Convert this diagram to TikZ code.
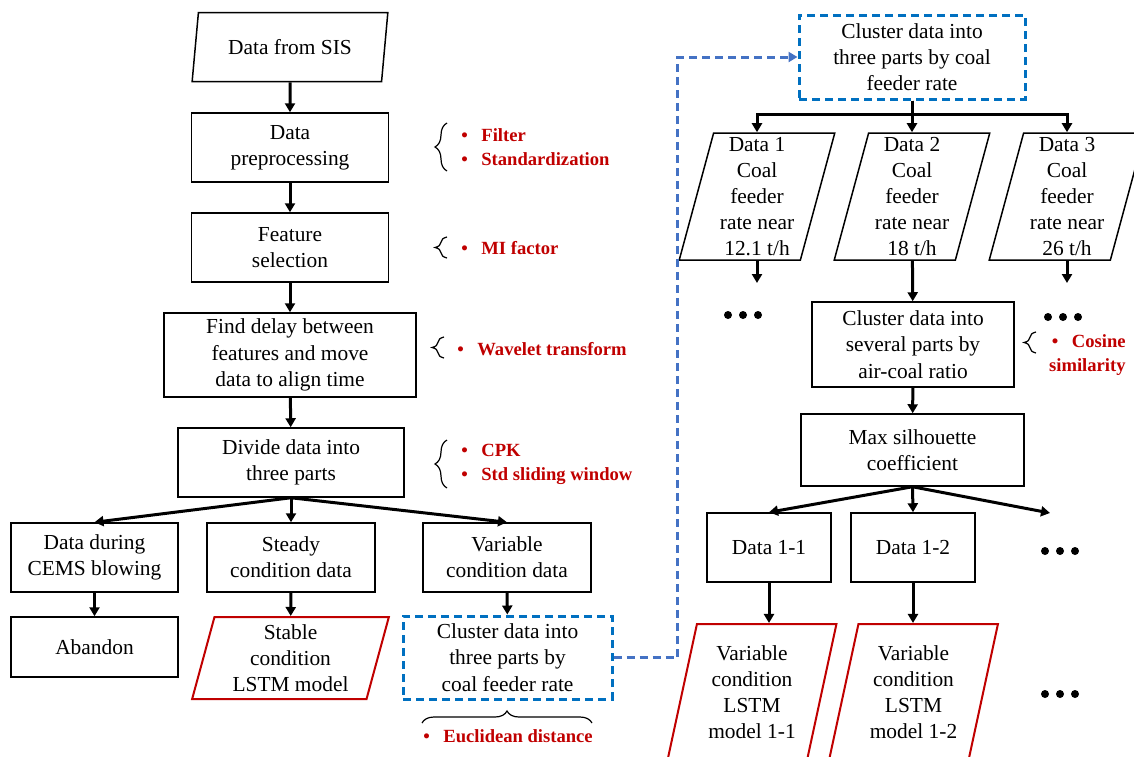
\documentclass[tikz,border=0pt]{standalone}
\usepackage{fontspec}
\setmainfont{Liberation Serif}
\usetikzlibrary{shapes.geometric,arrows.meta,decorations.pathreplacing}
\definecolor{notered}{HTML}{C00000}
\definecolor{boxblue}{HTML}{0070C0}
\definecolor{linkblue}{HTML}{4472C4}
\newcommand{\bl}{\makebox[10pt][l]{\textbullet}}

\begin{document}
\begin{tikzpicture}[x=0.5pt,y=-0.5pt,
    box/.style={draw,line width=0.75pt,align=center,inner sep=1pt,font=\fontsize{10.7}{13.1}\selectfont},
    para/.style={box,trapezium,trapezium left angle=76,trapezium right angle=104,trapezium stretches=true,inner sep=0.5pt},
    model/.style={para,draw=notered,line width=1pt},
    dbox/.style={box,draw=boxblue,line width=1.5pt,dash pattern=on 4pt off 2.5pt},
    note/.style={text=notered,align=left,inner sep=0pt,font=\bfseries\fontsize{9.3}{12}\selectfont},
    arr/.style={-{Triangle[length=4.5pt,width=5pt]},line width=1.5pt},
    link/.style={arr,draw=linkblue,dash pattern=on 4pt off 2.5pt},
    brc/.style={decorate,decoration={brace,amplitude=6pt},line width=0.6pt}]
\useasboundingbox (0,0) rectangle (1134,756);

% left column
\node[para,minimum width=98.5pt,minimum height=34.5pt] (sis) at (290,47) {Data from SIS};
\node[box,minimum width=98.5pt,minimum height=34.5pt] (prep) at (290,147.5) {Data\\preprocessing};
\node[box,minimum width=98.5pt,minimum height=34.5pt] (feat) at (290,247.5) {Feature\\selection};
\node[box,minimum width=126pt,minimum height=42pt] (delay) at (290,355) {Find delay between\\features and move\\data to align time};
\node[box,minimum width=113pt,minimum height=34.5pt] (divide) at (291,462.5) {Divide data into\\three parts};

\node[box,minimum width=83.5pt,minimum height=34.5pt] (cems) at (94.5,557.5) {Data during\\CEMS blowing};
\node[box,minimum width=84pt,minimum height=34.5pt] (steady) at (291,557.5) {Steady\\condition data};
\node[box,minimum width=84pt,minimum height=34.5pt] (vari) at (507,557.5) {Variable\\condition data};
\node[box,minimum width=83.5pt,minimum height=30pt] (abandon) at (94.5,647) {Abandon};
\node[model,minimum width=98.5pt,minimum height=41pt] (stable) at (290.5,658) {Stable\\condition\\LSTM model};
\node[dbox,minimum width=104.5pt,minimum height=41.5pt] (clustA) at (507.5,657.5) {Cluster data into\\three parts by\\coal feeder rate};

\draw[arr] (sis) -- (prep);
\draw[arr] (prep) -- (feat);
\draw[arr] (feat) -- (delay);
\draw[arr] (delay) -- (divide);
\draw[arr] (divide.south) -- (cems.north);
\draw[arr] (divide.south) -- (steady.north);
\draw[arr] (divide.south) -- (vari.north);
\draw[arr] (cems) -- (abandon);
\draw[arr] (steady) -- (stable);
\draw[arr] (vari) -- (clustA);

% notes
\draw[brc] (447,171) -- (447,123);
\node[note,anchor=west] (nfilter) at (461,147) {\bl Filter\\\bl Standardization};
\draw[brc] (447,258) -- (447,237);
\node[note,anchor=west] (nmi) at (461,248) {\bl MI factor};
\draw[brc] (444,358) -- (444,337);
\node[note,anchor=west] (nwave) at (457,349) {\bl Wavelet transform};
\draw[brc] (447,488) -- (447,440);
\node[note,anchor=west] (ncpk) at (461,464) {\bl CPK\\\bl Std sliding window};
\draw[brc] (422,723) -- (592,723);
\node[note,anchor=west] (neuc) at (423,736) {\bl Euclidean distance};

% right part
\node[dbox,minimum width=113pt,minimum height=42pt] (clustB) at (912,57) {Cluster data into\\three parts by coal\\feeder rate};
\node[para,minimum width=78pt,minimum height=63.5pt] (dA) at (757,196.5) {Data 1\\Coal\\feeder\\rate near\\12.1 t/h};
\node[para,minimum width=78pt,minimum height=63.5pt] (dB) at (912,196.5) {Data 2\\Coal\\feeder\\rate near\\18 t/h};
\node[para,minimum width=78pt,minimum height=63.5pt] (dC) at (1067,196.5) {Data 3\\Coal\\feeder\\rate near\\26 t/h};
\node[box,minimum width=101pt,minimum height=42.5pt] (clustC) at (913,344.5) {Cluster data into\\several parts by\\air-coal ratio};
\node[box,minimum width=111.5pt,minimum height=36pt] (maxsil) at (912.5,450) {Max silhouette\\coefficient};
\node[box,minimum width=62pt,minimum height=34.5pt] (dAA) at (769,547.5) {Data 1-1};
\node[box,minimum width=62pt,minimum height=34.5pt] (dAB) at (913,547.5) {Data 1-2};
\node[model,minimum width=85pt,minimum height=68pt] (mAA) at (752,692) {Variable\\condition\\LSTM\\model 1-1};
\node[model,minimum width=85pt,minimum height=68pt] (mAB) at (913.5,692) {Variable\\condition\\LSTM\\model 1-2};
\coordinate (endA) at (757,283);
\coordinate (endC) at (1067,283);
\coordinate (more) at (1050,513);

\draw[link] (clustA.east) -- ++(64,0) |- (clustB.west);
\draw[arr] (clustB.south) -- (dB);
\draw[arr] (clustB.south) -- ++(0,14) -| (dA);
\draw[arr] (clustB.south) -- ++(0,14) -| (dC);
\draw[arr] (dA.center |- dA.south) -- (endA);
\draw[arr] (dC.center |- dC.south) -- (endC);
\draw[arr] (dB) -- (clustC);
\draw[arr] (clustC) -- (maxsil);
\draw[arr] (maxsil.south) -- (dAA.north);
\draw[arr] (maxsil.south) -- (dAB.north);
\draw[arr] (maxsil.south) -- (more);
\draw[arr] (dAA.south) -- (dAA |- mAA.north);
\draw[arr] (dAB.south) -- (dAB |- mAB.north);

\draw[brc] (1036,353) -- (1036,332);
\node[note,align=right,anchor=east] (ncos) at (1126,355) {\bl Cosine\\similarity};

\foreach \x/\y in {743/315,1063/317,1060/551,1060/694}
    \foreach \k in {-1,0,1}
        \fill (\x+15*\k,\y) circle (2pt);
\end{tikzpicture}
\end{document}
